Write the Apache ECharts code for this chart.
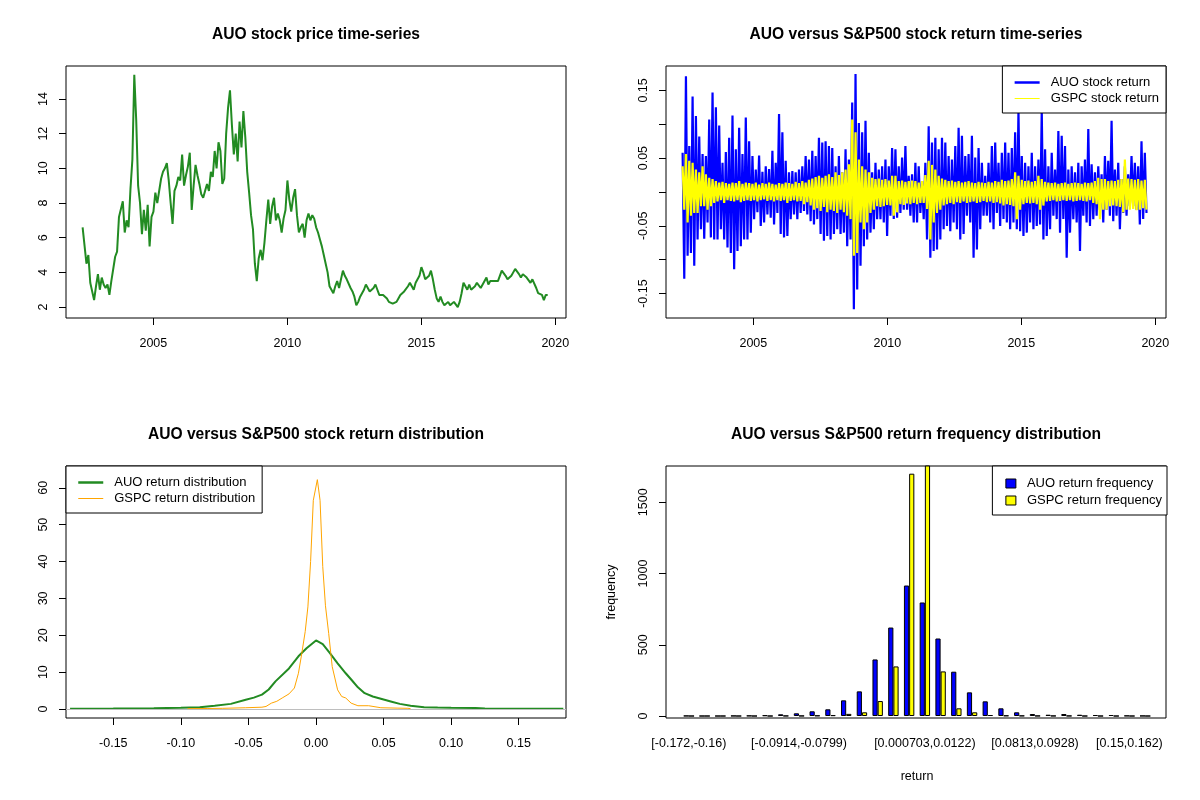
<!DOCTYPE html>
<html>
<head>
<meta charset="utf-8">
<script src="https://cdn.jsdelivr.net/npm/echarts@6/dist/echarts.min.js"></script>
<style>
  html, body { margin: 0; padding: 0; background: #fff; }
  #chart { width: 1200px; height: 800px; }
</style>
</head>
<body>
<div id="chart"></div>
<script>
var FONT = '"Liberation Sans", Arial, sans-serif';

// ---- panel 1: AUO price, one reading every 1/14 year from 2002.36
var priceStart = 2002.36;
var priceStep = 1 / 14;
var auoPrice = [
  6.6, 6.7, 4.5, 5.0, 3.4, 3.5, 2.4, 3.2, 3.9, 3.0,
  3.7, 3.3, 3.1, 3.3, 2.7, 3.5, 3.6, 4.9, 5.2, 7.2,
  7.2, 8.1, 6.3, 7.0, 6.6, 8.8, 10.5, 15.4, 12.8, 9.0,
  8.0, 6.2, 7.6, 6.4, 7.9, 5.5, 7.2, 7.5, 8.6, 8.0,
  8.0, 9.4, 9.8, 10.0, 10.3, 9.3, 8.0, 6.8, 8.7, 9.0,
  9.5, 9.3, 10.8, 9.0, 9.6, 10.1, 10.9, 7.6, 9.0, 10.2,
  9.6, 9.1, 8.5, 8.3, 8.7, 9.1, 8.7, 9.8, 9.5, 11.0,
  10.0, 11.5, 11.0, 9.1, 9.4, 12.0, 13.5, 14.5, 12.5, 10.8,
  12.0, 10.4, 12.7, 11.2, 13.3, 11.8, 9.8, 8.6, 7.3, 6.5,
  4.5, 3.5, 4.8, 5.3, 4.7, 5.7, 7.0, 8.2, 6.8, 7.8,
  8.3, 7.0, 7.4, 7.0, 6.3, 7.1, 7.6, 9.3, 8.2, 7.5,
  8.3, 8.8, 7.3, 6.3, 6.6, 6.8, 6.0, 7.0, 7.4, 7.0,
  7.3, 7.1, 6.6, 6.3, 5.9, 5.5, 5.0, 4.5, 4.0, 3.2,
  3.0, 2.8, 3.2, 3.5, 3.1, 3.6, 4.1, 3.8, 3.6, 3.5,
  3.1, 2.9, 2.6, 2.1, 2.3, 2.6, 2.8, 3.0, 3.3, 3.2,
  2.9, 3.0, 3.1, 3.3, 3.0, 2.7, 2.6, 2.7, 2.8, 2.5,
  2.3, 2.2, 2.2, 2.1, 2.3, 2.5, 2.7, 2.8, 2.9, 3.0,
  3.2, 3.4, 3.2, 3.0, 3.4, 3.6, 3.8, 4.3, 4.0, 3.6,
  3.7, 3.8, 4.1, 3.6, 3.0, 2.5, 2.3, 2.6, 2.3, 2.1,
  2.0, 2.3, 2.1, 2.1, 2.3, 2.4, 2.0, 2.3, 2.8, 3.4,
  3.2, 3.0, 3.3, 3.0, 3.1, 3.2, 3.4, 3.3, 3.1, 3.3,
  3.4, 3.7, 3.3, 3.5, 3.4, 3.5, 3.6, 3.5, 3.8, 4.1,
  4.0, 3.8, 3.6, 3.7, 3.8, 4.0, 4.2, 4.1, 3.9, 3.7,
  3.9, 3.8, 3.7, 3.6, 3.4, 3.6, 3.5, 3.1, 2.8, 2.8,
  2.7, 2.4, 2.7, 2.7
];

// ---- panel 2: daily returns, highest and lowest value in each 0.1241-year window
var retStart = 2002.36;
var retStep = 0.1241;
var auoRetHi = [
  0.058, 0.171, 0.068, 0.141, 0.112, 0.082, 0.056, 0.053, 0.107, 0.147,
  0.125, 0.098, 0.043, 0.059, 0.080, 0.113, 0.063, 0.095, 0.056, 0.110,
  0.075, 0.053, 0.033, 0.054, 0.030, 0.038, 0.034, 0.061, 0.043, 0.115,
  0.088, 0.046, 0.029, 0.031, 0.029, 0.033, 0.038, 0.053, 0.048, 0.061,
  0.053, 0.080, 0.073, 0.075, 0.068, 0.065, 0.038, 0.053, 0.029, 0.063,
  0.048, 0.132, 0.174, 0.102, 0.088, 0.105, 0.058, 0.029, 0.043, 0.033,
  0.038, 0.048, 0.038, 0.065, 0.063, 0.038, 0.051, 0.068, 0.024, 0.026,
  0.043, 0.038, 0.016, 0.043, 0.097, 0.073, 0.080, 0.063, 0.080, 0.073,
  0.053, 0.048, 0.068, 0.095, 0.083, 0.053, 0.056, 0.083, 0.051, 0.065,
  0.043, 0.024, 0.043, 0.068, 0.073, 0.043, 0.058, 0.073, 0.058, 0.065,
  0.088, 0.120, 0.053, 0.043, 0.038, 0.058, 0.038, 0.048, 0.120, 0.063,
  0.038, 0.058, 0.033, 0.090, 0.083, 0.068, 0.033, 0.038, 0.029, 0.043,
  0.038, 0.048, 0.093, 0.041, 0.029, 0.038, 0.026, 0.053, 0.046, 0.105,
  0.033, 0.043, 0.019, 0.038, 0.026, 0.053, 0.043, 0.038, 0.075, 0.058
];
var auoRetLo = [
  -0.128, -0.094, -0.090, -0.109, -0.070, -0.055, -0.069, -0.045, -0.067, -0.070,
  -0.070, -0.055, -0.070, -0.082, -0.090, -0.114, -0.087, -0.080, -0.070, -0.070,
  -0.060, -0.040, -0.030, -0.050, -0.045, -0.033, -0.038, -0.048, -0.031, -0.062,
  -0.067, -0.065, -0.040, -0.033, -0.040, -0.031, -0.028, -0.033, -0.043, -0.048,
  -0.040, -0.062, -0.072, -0.065, -0.070, -0.062, -0.055, -0.062, -0.060, -0.080,
  -0.070, -0.173, -0.144, -0.109, -0.080, -0.070, -0.060, -0.055, -0.040, -0.040,
  -0.045, -0.065, -0.035, -0.040, -0.038, -0.031, -0.026, -0.026, -0.035, -0.045,
  -0.045, -0.031, -0.040, -0.070, -0.097, -0.087, -0.085, -0.070, -0.055, -0.050,
  -0.058, -0.045, -0.055, -0.070, -0.062, -0.035, -0.045, -0.097, -0.085, -0.055,
  -0.035, -0.035, -0.045, -0.055, -0.031, -0.050, -0.040, -0.045, -0.055, -0.045,
  -0.055, -0.058, -0.065, -0.060, -0.045, -0.055, -0.050, -0.048, -0.070, -0.065,
  -0.055, -0.035, -0.040, -0.060, -0.040, -0.097, -0.060, -0.040, -0.045, -0.087,
  -0.035, -0.045, -0.050, -0.040, -0.035, -0.026, -0.045, -0.026, -0.035, -0.043,
  -0.035, -0.055, -0.031, -0.035, -0.021, -0.021, -0.026, -0.048, -0.040, -0.031
];
var gspcRetHi = [
  0.038, 0.056, 0.046, 0.043, 0.033, 0.029, 0.038, 0.026, 0.021, 0.019,
  0.016, 0.014, 0.015, 0.013, 0.012, 0.014, 0.013, 0.016, 0.012, 0.014,
  0.013, 0.012, 0.014, 0.011, 0.013, 0.012, 0.014, 0.012, 0.011, 0.013,
  0.012, 0.014, 0.013, 0.012, 0.015, 0.013, 0.016, 0.014, 0.018, 0.020,
  0.022, 0.024, 0.021, 0.024, 0.026, 0.022, 0.029, 0.025, 0.029, 0.033,
  0.041, 0.107, 0.088, 0.048, 0.038, 0.033, 0.029, 0.021, 0.019, 0.020,
  0.018, 0.019, 0.017, 0.024, 0.024, 0.016, 0.017, 0.015, 0.016, 0.017,
  0.016, 0.014, 0.016, 0.025, 0.046, 0.040, 0.033, 0.024, 0.020, 0.018,
  0.016, 0.017, 0.015, 0.016, 0.014, 0.015, 0.016, 0.014, 0.013, 0.015,
  0.014, 0.013, 0.015, 0.014, 0.016, 0.015, 0.018, 0.016, 0.017, 0.019,
  0.029, 0.024, 0.018, 0.016, 0.017, 0.015, 0.016, 0.024, 0.019, 0.015,
  0.014, 0.013, 0.014, 0.012, 0.013, 0.014, 0.012, 0.013, 0.014, 0.013,
  0.012, 0.014, 0.013, 0.014, 0.016, 0.021, 0.019, 0.019, 0.016, 0.017,
  0.016, 0.018, 0.019, 0.048, 0.020, 0.019, 0.018, 0.019, 0.017, 0.018
];
var gspcRetLo = [
  -0.026, -0.045, -0.035, -0.031, -0.031, -0.021, -0.021, -0.026, -0.021, -0.016,
  -0.014, -0.012, -0.016, -0.012, -0.013, -0.014, -0.012, -0.015, -0.013, -0.012,
  -0.013, -0.012, -0.014, -0.012, -0.011, -0.013, -0.012, -0.014, -0.012, -0.013,
  -0.012, -0.016, -0.013, -0.012, -0.014, -0.013, -0.018, -0.015, -0.020, -0.026,
  -0.024, -0.028, -0.022, -0.030, -0.026, -0.028, -0.031, -0.026, -0.030, -0.035,
  -0.040, -0.094, -0.090, -0.045, -0.055, -0.045, -0.031, -0.026, -0.021, -0.022,
  -0.021, -0.019, -0.020, -0.035, -0.030, -0.018, -0.019, -0.017, -0.018, -0.016,
  -0.018, -0.016, -0.016, -0.025, -0.070, -0.045, -0.031, -0.026, -0.020, -0.018,
  -0.016, -0.018, -0.015, -0.016, -0.014, -0.016, -0.015, -0.014, -0.016, -0.015,
  -0.013, -0.015, -0.014, -0.016, -0.015, -0.017, -0.020, -0.018, -0.019, -0.021,
  -0.040, -0.026, -0.018, -0.016, -0.017, -0.016, -0.018, -0.026, -0.020, -0.014,
  -0.013, -0.012, -0.014, -0.013, -0.012, -0.013, -0.012, -0.014, -0.013, -0.012,
  -0.013, -0.014, -0.012, -0.016, -0.018, -0.040, -0.026, -0.026, -0.021, -0.020,
  -0.021, -0.022, -0.030, -0.026, -0.026, -0.025, -0.027, -0.026, -0.024, -0.026
];

// ---- panel 3: kernel density estimates
var auoDensX = [
  -0.182, -0.15, -0.12, -0.10, -0.086, -0.075, -0.063, -0.052, -0.046, -0.04,
  -0.035, -0.03, -0.02, -0.013, -0.007, 0.0, 0.005, 0.01, 0.016, 0.022,
  0.027, 0.031, 0.036, 0.042, 0.05, 0.056, 0.062, 0.07, 0.08, 0.09,
  0.10, 0.118, 0.125, 0.15, 0.183
];
var auoDensY = [
  0.1, 0.12, 0.2, 0.35, 0.5, 0.9, 1.4, 2.5, 3.1, 3.9,
  5.3, 7.5, 11.0, 14.3, 16.5, 18.6, 17.6, 15.3, 12.4, 9.7,
  7.6, 5.9, 4.3, 3.4, 2.6, 2.0, 1.4, 0.9, 0.5, 0.4,
  0.35, 0.3, 0.15, 0.1, 0.1
];
var gspcDensX = [
  -0.095, -0.08, -0.069, -0.052, -0.04, -0.037, -0.033, -0.029, -0.025, -0.02,
  -0.016, -0.013, -0.0105, -0.008, -0.006, -0.004, -0.002, 0.001, 0.003, 0.005,
  0.007, 0.0094, 0.012, 0.016, 0.019, 0.022, 0.026, 0.031, 0.039, 0.048,
  0.06, 0.068, 0.07
];
var gspcDensY = [
  0.1, 0.15, 0.2, 0.35, 0.5, 0.7, 1.6, 2.1, 3.0, 4.1,
  5.7, 9.7, 15.1, 21.0, 27.7, 40.0, 56.6, 62.2, 56.6, 38.6,
  28.0, 20.5, 11.5, 5.2, 3.4, 3.0, 1.6, 0.9, 0.9, 0.35,
  0.25, 0.2, 0.1
];

// ---- panel 4: return histogram, 30 bins
var binLabels = [
  '[-0.172,-0.16)', '[-0.16,-0.149)', '[-0.149,-0.137)', '[-0.137,-0.126)', '[-0.126,-0.114)',
  '[-0.114,-0.103)', '[-0.103,-0.0914)', '[-0.0914,-0.0799)', '[-0.0799,-0.0684)', '[-0.0684,-0.0569)',
  '[-0.0569,-0.0453)', '[-0.0453,-0.0338)', '[-0.0338,-0.0223)', '[-0.0223,-0.0108)', '[-0.0108,0.000703)',
  '[0.000703,0.0122)', '[0.0122,0.0237)', '[0.0237,0.0353)', '[0.0353,0.0468)', '[0.0468,0.0583)',
  '[0.0583,0.0698)', '[0.0698,0.0813)', '[0.0813,0.0928)', '[0.0928,0.104)', '[0.104,0.116)',
  '[0.116,0.127)', '[0.127,0.139)', '[0.139,0.15)', '[0.15,0.162)', '[0.162,0.173)'
];
var auoFreq = [1, 0, 0, 1, 2, 5, 12, 19, 33, 47, 110, 173, 397, 621, 916, 797, 544, 311, 166, 103, 54, 26, 14, 9, 14, 9, 7, 7, 2, 1];
var gspcFreq = [0, 0, 0, 0, 0, 0, 1, 1, 3, 6, 15, 26, 105, 348, 1701, 1787, 313, 54, 26, 7, 3, 2, 1, 1, 1, 0, 0, 0, 0, 0];
var binLabelShown = [0, 7, 15, 22, 28];

// tick positions
var yearTicks = [2005, 2010, 2015, 2020];
var priceTicks = [2, 4, 6, 8, 10, 12, 14];
var retTicks = [-0.15, -0.1, -0.05, 0, 0.05, 0.1, 0.15];
var retLabels = [-0.15, -0.05, 0.05, 0.15];
var densXTicks = [-0.15, -0.1, -0.05, 0, 0.05, 0.1, 0.15];
var densYTicks = [0, 10, 20, 30, 40, 50, 60];
var freqTicks = [0, 500, 1000, 1500];

function indexed(values, start, step) {
  return values.map(function (v, i) { return [start + i * step, v]; });
}
function zigzag(hi, lo, start, step) {
  var out = [];
  for (var i = 0; i < hi.length; i++) {
    out.push([start + i * step, hi[i]]);
    out.push([start + (i + 0.5) * step, lo[i]]);
  }
  return out;
}
function pairs(xs, ys) {
  return xs.map(function (x, i) { return [x, ys[i]]; });
}

var labelStyle = { color: '#000', fontSize: 12.5, fontFamily: FONT };

function axis(gridIndex, min, max, ticks, labels, fmt, isY, extra) {
  var a = {
    type: 'value', gridIndex: gridIndex, min: min, max: max,
    splitLine: { show: false },
    axisLine: { show: false, onZero: false },
    axisTick: { show: true, customValues: ticks, length: 7, lineStyle: { color: '#000', width: 1 } },
    axisLabel: Object.assign({ customValues: labels, formatter: fmt, margin: isY ? 16 : 19, rotate: isY ? 90 : 0 }, labelStyle)
  };
  return Object.assign(a, extra || {});
}
var fmtInt = function (v) { return String(v); };
var fmt2 = function (v) { return v.toFixed(2); };

function frame(left, top) {
  return { left: left, top: top, width: 500, height: 252, show: true, borderColor: '#000', borderWidth: 1, backgroundColor: 'transparent' };
}

function legendBox(pos, items, extra) {
  return Object.assign({
    orient: 'vertical', data: items, selectedMode: false,
    itemWidth: 25, itemHeight: 13, itemGap: 3,
    padding: [10, 7, 8, 11],
    itemStyle: { opacity: 0 },
    textStyle: { color: '#000', fontSize: 13, fontFamily: FONT, padding: [0, 0, 0, 6] },
    borderColor: '#000', borderWidth: 1, borderRadius: 0, backgroundColor: '#fff'
  }, pos, extra || {});
}

function title(text, x, y) {
  return {
    type: 'text', x: x, y: y,
    style: { text: text, fontSize: 15.6, fontWeight: 'bold', fontFamily: FONT, fill: '#000', align: 'center', verticalAlign: 'middle' }
  };
}

var chart = echarts.init(document.getElementById('chart'), null, { renderer: 'canvas' });

var option = {
  animation: false,
  backgroundColor: '#fff',
  graphic: [
    title('AUO stock price time-series', 316, 35),
    title('AUO versus S&P500 stock return time-series', 916, 35),
    title('AUO versus S&P500 stock return distribution', 316, 435),
    title('AUO versus S&P500 return frequency distribution', 916, 435)
  ],
  grid: [
    frame(66, 66),
    frame(666, 66),
    frame(66, 466),
    frame(666, 466),
    { left: 681, top: 466, width: 472, height: 252, show: false }
  ],
  xAxis: [
    axis(0, 2001.74, 2020.40, yearTicks, yearTicks, fmtInt, false),
    axis(1, 2001.74, 2020.40, yearTicks, yearTicks, fmtInt, false),
    axis(2, -0.185, 0.185, densXTicks, densXTicks, fmt2, false),
    { type: 'value', gridIndex: 3, show: false },
    {
      type: 'category', gridIndex: 4, data: binLabels,
      axisLine: { show: false }, axisTick: { show: false }, splitLine: { show: false },
      axisLabel: Object.assign({
        interval: function (idx) { return binLabelShown.indexOf(idx) >= 0; },
        margin: 19
      }, labelStyle),
      name: 'return', nameLocation: 'middle', nameGap: 52,
      nameTextStyle: labelStyle
    }
  ],
  yAxis: [
    axis(0, 1.37, 15.9, priceTicks, priceTicks, fmtInt, true),
    axis(1, -0.186, 0.186, retTicks, retLabels, fmt2, true),
    axis(2, -2.43, 65.9, densYTicks, densYTicks, fmtInt, true),
    { type: 'value', gridIndex: 3, show: false },
    axis(4, -14, 1755, freqTicks, freqTicks, fmtInt, true, {
      offset: 15,
      name: 'frequency', nameLocation: 'middle', nameGap: 48, nameRotate: 90,
      nameTextStyle: labelStyle
    })
  ],
  legend: [
    legendBox({ right: 34, top: 66 }, [
      { name: 'AUO stock return', lineStyle: { width: 2.5 } },
      { name: 'GSPC stock return', lineStyle: { width: 1 } }
    ]),
    legendBox({ left: 66, top: 466 }, [
      { name: 'AUO return distribution', lineStyle: { width: 2.5 } },
      { name: 'GSPC return distribution', lineStyle: { width: 1 } }
    ]),
    legendBox({ right: 33, top: 466 }, ['AUO return frequency', 'GSPC return frequency'], {
      icon: 'rect', itemWidth: 10, itemHeight: 9, itemGap: 4, padding: [11, 5, 8, 13],
      itemStyle: { borderColor: '#000', borderWidth: 1 }
    })
  ],
  series: [
    {
      name: 'AUO price', type: 'line', xAxisIndex: 0, yAxisIndex: 0,
      data: indexed(auoPrice, priceStart, priceStep),
      symbol: 'none', lineStyle: { color: '#228B22', width: 2 }, itemStyle: { color: '#228B22' }
    },
    {
      name: 'AUO stock return', type: 'line', xAxisIndex: 1, yAxisIndex: 1,
      data: zigzag(auoRetHi, auoRetLo, retStart, retStep),
      symbol: 'none', lineStyle: { color: '#0000FF', width: 2.2 }, itemStyle: { color: '#0000FF' }
    },
    {
      name: 'GSPC stock return', type: 'line', xAxisIndex: 1, yAxisIndex: 1,
      data: zigzag(gspcRetHi, gspcRetLo, retStart, retStep),
      symbol: 'none', lineStyle: { color: '#FFFF00', width: 2.2 }, itemStyle: { color: '#FFFF00' }
    },
    {
      name: 'AUO return distribution', type: 'line', xAxisIndex: 2, yAxisIndex: 2,
      data: pairs(auoDensX, auoDensY),
      symbol: 'none', lineStyle: { color: '#228B22', width: 2 }, itemStyle: { color: '#228B22' },
      markLine: {
        silent: true, symbol: 'none', label: { show: false },
        lineStyle: { color: '#BEBEBE', width: 1, type: 'solid' },
        data: [{ yAxis: 0 }]
      }
    },
    {
      name: 'GSPC return distribution', type: 'line', xAxisIndex: 2, yAxisIndex: 2,
      data: pairs(gspcDensX, gspcDensY),
      symbol: 'none', lineStyle: { color: '#FFA500', width: 1 }, itemStyle: { color: '#FFA500' }
    },
    {
      name: 'AUO return frequency', type: 'bar', xAxisIndex: 4, yAxisIndex: 4,
      data: auoFreq, barWidth: 5.2, barGap: '0%',
      itemStyle: { color: '#0000FF', borderColor: '#000', borderWidth: 1 }
    },
    {
      name: 'GSPC return frequency', type: 'bar', xAxisIndex: 4, yAxisIndex: 4,
      data: gspcFreq, barWidth: 5.2, barGap: '0%',
      itemStyle: { color: '#FFFF00', borderColor: '#000', borderWidth: 1 }
    }
  ]
};

chart.setOption(option);
</script>
</body>
</html>
